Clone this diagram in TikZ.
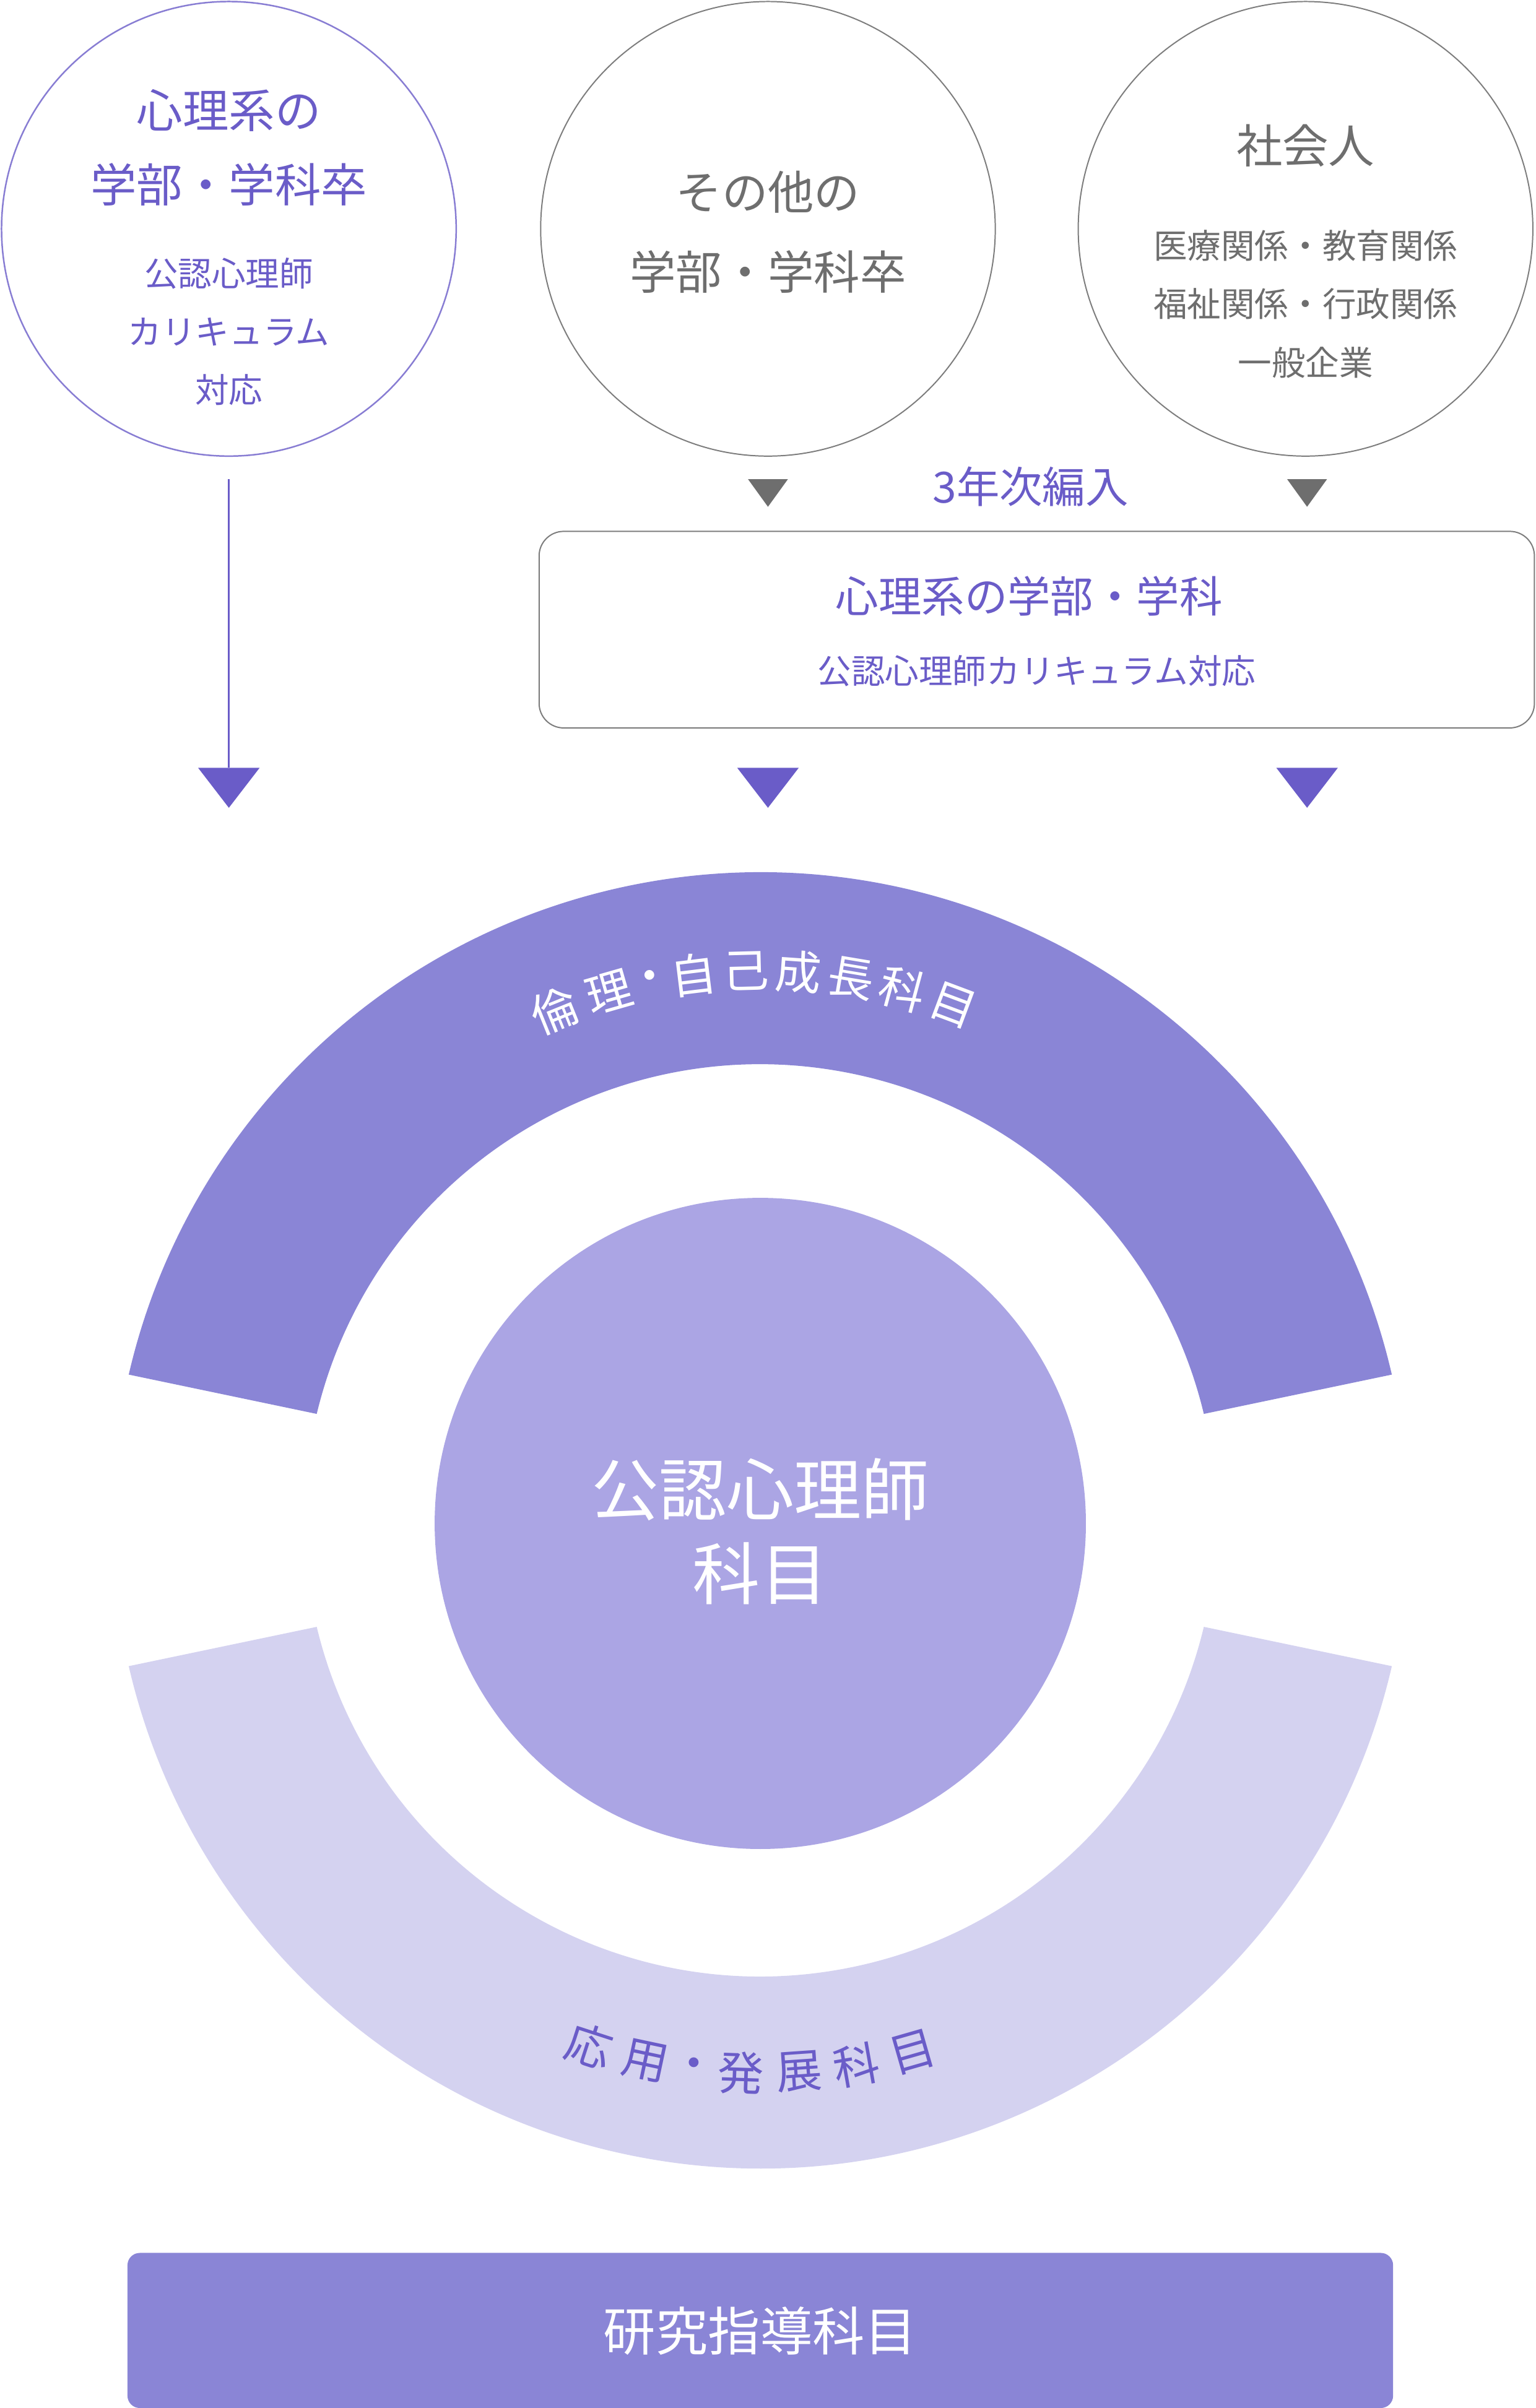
\documentclass[tikz,border=0pt]{standalone}
\usepackage{fontspec}
\setmainfont{Noto Sans CJK JP}
\definecolor{pur}{HTML}{6A5CC8}
\definecolor{gr}{HTML}{6E6E6E}
\definecolor{arcA}{HTML}{8A85D6}
\definecolor{arcB}{HTML}{D4D2F0}
\definecolor{mid}{HTML}{ABA5E4}
\newcommand{\fs}[1]{\fontsize{#1pt}{#1pt}\selectfont}
\tikzset{
 bubA/.style={circle,draw=pur!80,line width=0.5pt,minimum size=148pt,inner sep=0pt},
 bubB/.style={circle,draw=gr!90,line width=0.4pt,minimum size=148pt,inner sep=0pt},
 tri/.style={fill=pur,draw=none},
 trig/.style={fill=gr,draw=none},
 lbl/.style={inner sep=0pt,anchor=center}
}
\begin{document}
\begin{tikzpicture}[x=0.5pt,y=-0.5pt]
\useasboundingbox (0,0) rectangle (1000,1568);
% circles
\node[bubA] (c1) at (149,149) {};
\node[bubB] (c2) at (500,149) {};
\node[bubB] (c3) at (850,149) {};
\node[lbl,text=pur] (c1a) at (149,72) {\fs{15}心理系の};
\node[lbl,text=pur] (c1b) at (149,120) {\fs{15}学部・学科卒};
\node[lbl,text=pur] (c1c) at (149,178) {\fs{11}公認心理師};
\node[lbl,text=pur] (c1d) at (149,216) {\fs{11}カリキュラム};
\node[lbl,text=pur] (c1e) at (149,254) {\fs{11}対応};
\node[lbl,text=gr] (c2a) at (500,125) {\fs{15}その他の};
\node[lbl,text=gr] (c2b) at (500,177) {\fs{15}学部・学科卒};
\node[lbl,text=gr] (c3a) at (850,95) {\fs{15}社会人};
\node[lbl,text=gr] (c3b) at (850,160) {\fs{11}医療関係・教育関係};
\node[lbl,text=gr] (c3c) at (850,198) {\fs{11}福祉関係・行政関係};
\node[lbl,text=gr] (c3d) at (850,236) {\fs{11}一般企業};
% line and triangles
\coordinate (l1) at (149,312);
\coordinate (l2) at (149,500);
\draw[pur,line width=0.5pt] (l1) -- (l2);
\foreach \x in {149,500,851}{\fill[tri] (\x-20,500) -- (\x+20,500) -- (\x,526) -- cycle;}
\foreach \x in {500,851}{\fill[trig] (\x-13,312) -- (\x+13,312) -- (\x,330) -- cycle;}
\node[lbl,text=pur] (hen) at (671,317) {\fs{14}3年次編入};
% box
\draw[gr!90,line width=0.4pt,rounded corners=8pt] (351,346) rectangle (999,474);
\node[lbl,text=pur] (bx1) at (670,388) {\fs{14}心理系の学部・学科};
\node[lbl,text=pur] (bx2) at (675,437) {\fs{11}公認心理師カリキュラム対応};
% arcs
\begin{scope}[shift={(495,990)},yscale=-1]
\fill[arcA] (13:422) arc[start angle=13,end angle=167,radius=422] -- (166.5:297) arc[start angle=166.5,end angle=13.5,radius=297] -- cycle;
\fill[arcB] (-13:422) arc[start angle=-13,end angle=-167,radius=422] -- (-166.5:297) arc[start angle=-166.5,end angle=-13.5,radius=297] -- cycle;
\end{scope}
\node[circle,fill=mid,minimum size=212pt,inner sep=0pt] (core) at (495,992) {};
\node[lbl,text=white,align=center] (coret) at (495,997) {\fs{22}公認心理師\\[6pt]\fs{22}科目};
% arc text
\foreach \ch/\th in {倫/112,理/106,・/101.5,自/97,己/91.5,成/86,長/80.5,科/75,目/69.5}{
 \node[lbl,text=white,rotate=\th-90] at ({495+358*cos(\th)},{990-358*sin(\th)}) {\fs{15}\ch};}
\foreach \ch/\th in {応/-108,用/-102,・/-97,発/-92,展/-86,科/-80,目/-74}{
 \node[lbl,text=pur,rotate=\th+90] at ({495+360*cos(\th)},{990-360*sin(\th)}) {\fs{15}\ch};}
% bottom bar
\node[fill=arcA,rounded corners=4pt,minimum width=412pt,minimum height=50.5pt,inner sep=0pt] (bar) at (495,1517.5) {};
\node[lbl,text=white] (bart) at (495,1518) {\fs{17}研究指導科目};
\end{tikzpicture}
\end{document}
